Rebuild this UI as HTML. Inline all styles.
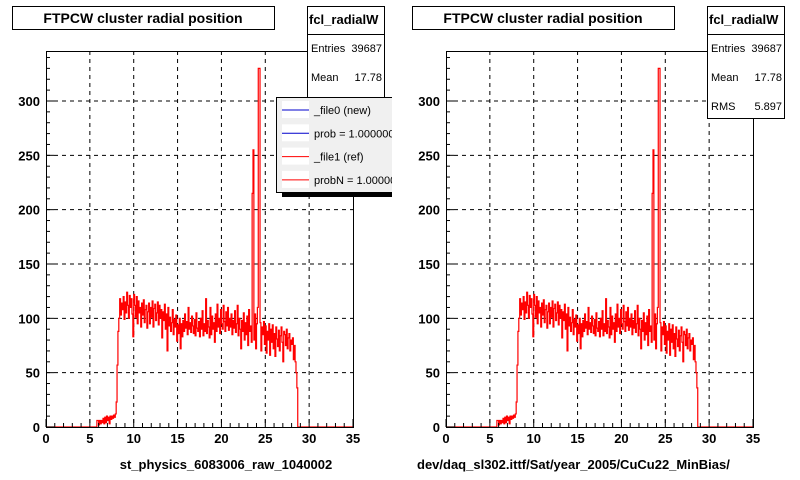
<!DOCTYPE html>
<html><head><meta charset="utf-8"><style>
html,body{margin:0;padding:0;background:#fff;}
svg{display:block;font-family:"Liberation Sans",Arial,sans-serif;}
</style></head><body>
<svg id="c" width="800" height="480" viewBox="0 0 800 480">
<defs><clipPath id="lgclip"><rect x="0" y="0" width="392" height="480"/></clipPath></defs>
</svg>
<script>
const binStart = 5.7;
const binWidth = 0.1;
const counts = [
0,6,6,2,6,3,6,4,8,3,
9,4,10,6,9,3,10,7,10,8,
11,9,12,23,57,88,100,118,103,114,
108,120,99,115,105,124,112,100,121,110,
118,104,83,122,112,101,120,95,116,105,
110,92,114,103,117,96,108,112,91,106,
114,95,110,101,116,92,109,113,98,105,
115,94,112,100,108,82,106,98,113,90,
104,70,110,93,101,88,96,108,85,99,
92,103,79,94,86,100,72,95,83,98,
88,104,91,97,85,110,90,96,87,102,
93,86,99,84,105,91,88,97,83,100,
90,107,84,95,88,118,86,98,92,82,
110,85,102,90,96,78,104,88,113,92,
100,86,108,95,90,112,97,88,106,93,
110,89,100,92,104,85,98,91,107,87,
95,112,84,100,90,72,98,88,105,80,
96,85,102,75,108,88,93,78,215,255,
80,104,72,95,110,330,330,96,70,92,
85,97,76,93,68,88,80,95,66,90,
78,94,72,86,65,92,81,74,89,70,
84,92,78,60,88,85,75,90,72,82,
86,70,80,76,82,62,75,60,50,36,
0];
const xTicks = [0,5,10,15,20,25,30,35];
const yTicks = [0,50,100,150,200,250,300];
const xTitles = ["st_physics_6083006_raw_1040002","dev/daq_sl302.ittf/Sat/year_2005/CuCu22_MinBias/"];
const statsLabels = ["Entries","Mean","RMS"];
const statsValues = ["39687","17.78","5.897"];
const legendLabels = ["_file0 (new)","prob = 1.000000","_file1 (ref)","probN = 1.000000"];
const legendColors = ["#0000cc","#0000cc","#ff0000","#ff0000"];

const NS="http://www.w3.org/2000/svg";
const svg=document.getElementById('c');
function mk(tag,attrs,parent){const e=document.createElementNS(NS,tag);for(const k in attrs)e.setAttribute(k,attrs[k]);(parent||svg).appendChild(e);return e;}

const X0=46,X1=353,Y0=427,YT=51,XMAX=35,YMAX=346;
function sx(v,ox){return ox+X0+(v/XMAX)*(X1-X0);}
function sy(v){return Y0-(v/YMAX)*(Y0-YT);}

for(let p=0;p<2;p++){
  const ox=p*400;
  const g=mk('g',{});
  
  
  xTicks.forEach(t=>{if(t>0&&t<XMAX){const l=mk('line',{x1:sx(t,ox),x2:sx(t,ox),y1:YT,y2:Y0,stroke:'#000','stroke-dasharray':'4,4','stroke-width':1},g);}});
  yTicks.forEach(t=>{if(t>0){const l=mk('line',{x1:ox+X0,x2:ox+X1,y1:sy(t),y2:sy(t),stroke:'#000','stroke-dasharray':'4,4','stroke-width':1},g);}});
  let d='M'+sx(0,ox)+','+sy(0)+' L'+sx(binStart,ox)+','+sy(0);
  counts.forEach((c,i)=>{const xa=sx(binStart+i*binWidth,ox),xb=sx(binStart+(i+1)*binWidth,ox);d+=' L'+xa+','+sy(c)+' L'+xb+','+sy(c);});
  d+=' L'+sx(binStart+counts.length*binWidth,ox)+','+sy(0)+' L'+sx(XMAX,ox)+','+sy(0);
  const h=mk('path',{d:d,fill:'none',stroke:'#ff0000','stroke-width':1.2},g);
  
  
  const fr=mk('rect',{x:ox+X0+0.5,y:YT+0.5,width:X1-X0,height:Y0-YT,fill:'none',stroke:'#000'},g);
  
  
  for(let t=0;t<=XMAX;t++){const x=sx(t,ox);const len=(t%5===0)?8:4;mk('line',{x1:x,x2:x,y1:Y0,y2:Y0-len,stroke:'#000'},g);}
  xTicks.forEach(t=>{const tx=mk('text',{x:sx(t,ox),y:Y0+16,'text-anchor':'middle','font-size':13,'font-weight':'bold'},g);tx.textContent=t;});
  for(let t=0;t<=YMAX;t+=10){const y=sy(t);const len=(t%50===0)?8:4;mk('line',{x1:ox+X0,x2:ox+X0+len,y1:y,y2:y,stroke:'#000'},g);}
  yTicks.forEach(t=>{const tx=mk('text',{x:ox+40,y:sy(t)+5,'text-anchor':'end','font-size':13,'font-weight':'bold'},g);tx.textContent=t;});
  const xt=mk('text',{x:p===0?226:ox+17,y:469,'text-anchor':p===0?'middle':'start','font-size':13,'font-weight':'bold'},g);
  xt.textContent=xTitles[p];
  
  
  const tb=mk('rect',{x:ox+12.5,y:6.5,width:262,height:23,fill:'#fff',stroke:'#000'},g);
  
  
  const tt=mk('text',{x:ox+143,y:23,'text-anchor':'middle','font-size':14,'font-weight':'bold'},g);
  tt.textContent='FTPCW cluster radial position';
  
  
  const sb=mk('rect',{x:ox+307.5,y:6.5,width:77,height:112,fill:'#fff',stroke:'#000'},g);
  
  
  mk('line',{x1:ox+307,x2:ox+385,y1:34.5,y2:34.5,stroke:'#000'},g);
  const sh=mk('text',{x:ox+309,y:24,'font-size':13,'font-weight':'bold'},g);
  sh.textContent='fcl_radialW';
  
  
  statsLabels.forEach((s,i)=>{const y=52+i*29;
    const a=mk('text',{x:ox+311,y:y,'font-size':11},g);a.textContent=s;
    const b=mk('text',{x:ox+382,y:y,'font-size':11,'text-anchor':'end'},g);b.textContent=statsValues[i];});
  if(p===0){
    const lg=mk('g',{'clip-path':'url(#lgclip)'},g);
    
    
    mk('rect',{x:282,y:192,width:118,height:5,fill:'#000'},lg);
    mk('rect',{x:276.5,y:97.5,width:130,height:95,fill:'#f0f0f0',stroke:'#000'},lg);
    legendLabels.forEach((s,i)=>{const y=110+i*23.3;
      mk('rect',{x:282,y:y-9,width:27,height:17,fill:'#fff'},lg);
      const ln=mk('line',{x1:282,x2:309,y1:y,y2:y,stroke:legendColors[i],'stroke-width':1},lg);
      
      
      const tx=mk('text',{x:314,y:y+4,'font-size':11},lg);
      tx.textContent=s;
      
      });
  }
}
</script>
</body></html>
